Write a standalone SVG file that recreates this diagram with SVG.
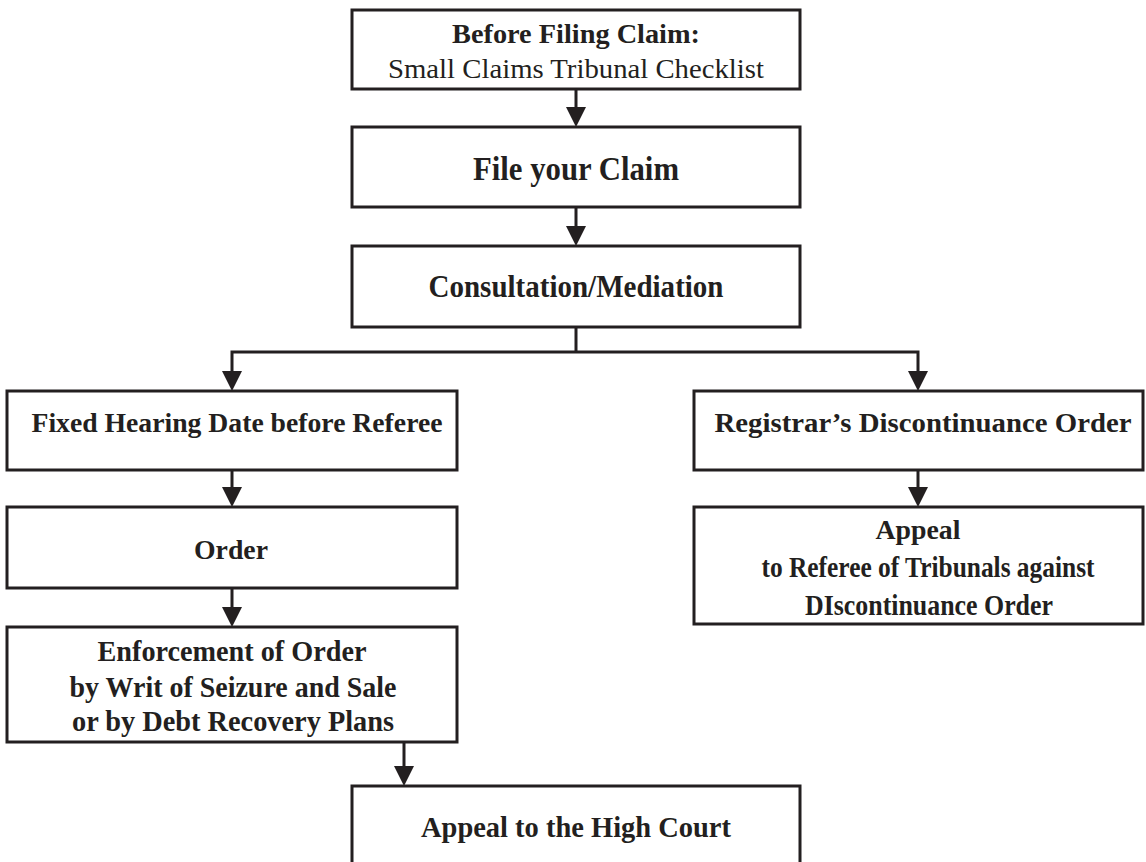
<svg xmlns="http://www.w3.org/2000/svg" width="1146" height="862" viewBox="0 0 1146 862">
<defs>
<marker id="ah" viewBox="0 0 20 20" markerWidth="20" markerHeight="20" markerUnits="userSpaceOnUse" refX="12" refY="10" orient="auto">
<path d="M0,0 L20,10 L0,20 z" fill="#231f20"/>
</marker>
<style>
.box{fill:#fff;stroke:#231f20;stroke-width:3}
.t{font-family:"Liberation Serif","Times New Roman",serif;font-weight:bold;fill:#231f20;text-anchor:middle}
.r{font-family:"Liberation Serif","Times New Roman",serif;font-weight:normal;fill:#231f20;text-anchor:middle}
.c{fill:none;stroke:#231f20;stroke-width:3}
.a{fill:none;stroke:#231f20;stroke-width:3;marker-end:url(#ah)}
</style>
</defs>
<rect width="1146" height="862" fill="#fff"/>
<g id="connectors">
<line class="a" x1="576" y1="89" x2="576" y2="119"/>
<line class="a" x1="576" y1="207" x2="576" y2="238"/>
<polyline class="c" points="576,327 576,352"/>
<polyline class="a" points="576,352 232,352 232,383"/>
<polyline class="a" points="576,352 918,352 918,383"/>
<line class="a" x1="232" y1="470" x2="232" y2="499"/>
<line class="a" x1="232" y1="588" x2="232" y2="619"/>
<line class="a" x1="918" y1="470" x2="918" y2="499"/>
<line class="a" x1="404" y1="742" x2="404" y2="778"/>
</g>
<g id="before-filing">
<rect class="box" x="352" y="10" width="448" height="79"/>
<text class="t" x="576" y="43" font-size="27" textLength="248" lengthAdjust="spacingAndGlyphs">Before Filing Claim:</text>
<text class="r" x="576" y="78" font-size="28" textLength="376" lengthAdjust="spacingAndGlyphs">Small Claims Tribunal Checklist</text>
</g>
<g id="file-claim">
<rect class="box" x="352" y="127" width="448" height="80"/>
<text class="t" x="576" y="180" font-size="34" textLength="206" lengthAdjust="spacingAndGlyphs">File your Claim</text>
</g>
<g id="consultation">
<rect class="box" x="352" y="246" width="448" height="81"/>
<text class="t" x="576" y="297" font-size="31" textLength="295" lengthAdjust="spacingAndGlyphs">Consultation/Mediation</text>
</g>
<g id="fixed-hearing">
<rect class="box" x="7" y="391" width="450" height="79"/>
<text class="t" x="237" y="432" font-size="28" textLength="411" lengthAdjust="spacingAndGlyphs">Fixed Hearing Date before Referee</text>
</g>
<g id="order">
<rect class="box" x="7" y="507" width="450" height="81"/>
<text class="t" x="231" y="559" font-size="28" textLength="74" lengthAdjust="spacingAndGlyphs">Order</text>
</g>
<g id="enforcement">
<rect class="box" x="7" y="627" width="450" height="115"/>
<text class="t" x="232" y="661" font-size="30" textLength="269" lengthAdjust="spacingAndGlyphs">Enforcement of Order</text>
<text class="t" x="233" y="697" font-size="30" textLength="327" lengthAdjust="spacingAndGlyphs">by Writ of Seizure and Sale</text>
<text class="t" x="233" y="731" font-size="30" textLength="322" lengthAdjust="spacingAndGlyphs">or by Debt Recovery Plans</text>
</g>
<g id="high-court">
<rect class="box" x="352" y="786" width="448" height="100"/>
<text class="t" x="576" y="837" font-size="30" textLength="310" lengthAdjust="spacingAndGlyphs">Appeal to the High Court</text>
</g>
<g id="discontinuance">
<rect class="box" x="694" y="391" width="449" height="79"/>
<text class="t" x="923" y="432" font-size="28" textLength="417" lengthAdjust="spacingAndGlyphs">Registrar’s Discontinuance Order</text>
</g>
<g id="appeal-referee">
<rect class="box" x="694" y="507" width="449" height="117"/>
<text class="t" x="918" y="539" font-size="28" textLength="85" lengthAdjust="spacingAndGlyphs">Appeal</text>
<text class="t" x="928" y="577" font-size="29" textLength="333" lengthAdjust="spacingAndGlyphs">to Referee of Tribunals against</text>
<text class="t" x="929" y="615" font-size="29" textLength="248" lengthAdjust="spacingAndGlyphs">DIscontinuance Order</text>
</g>
</svg>
